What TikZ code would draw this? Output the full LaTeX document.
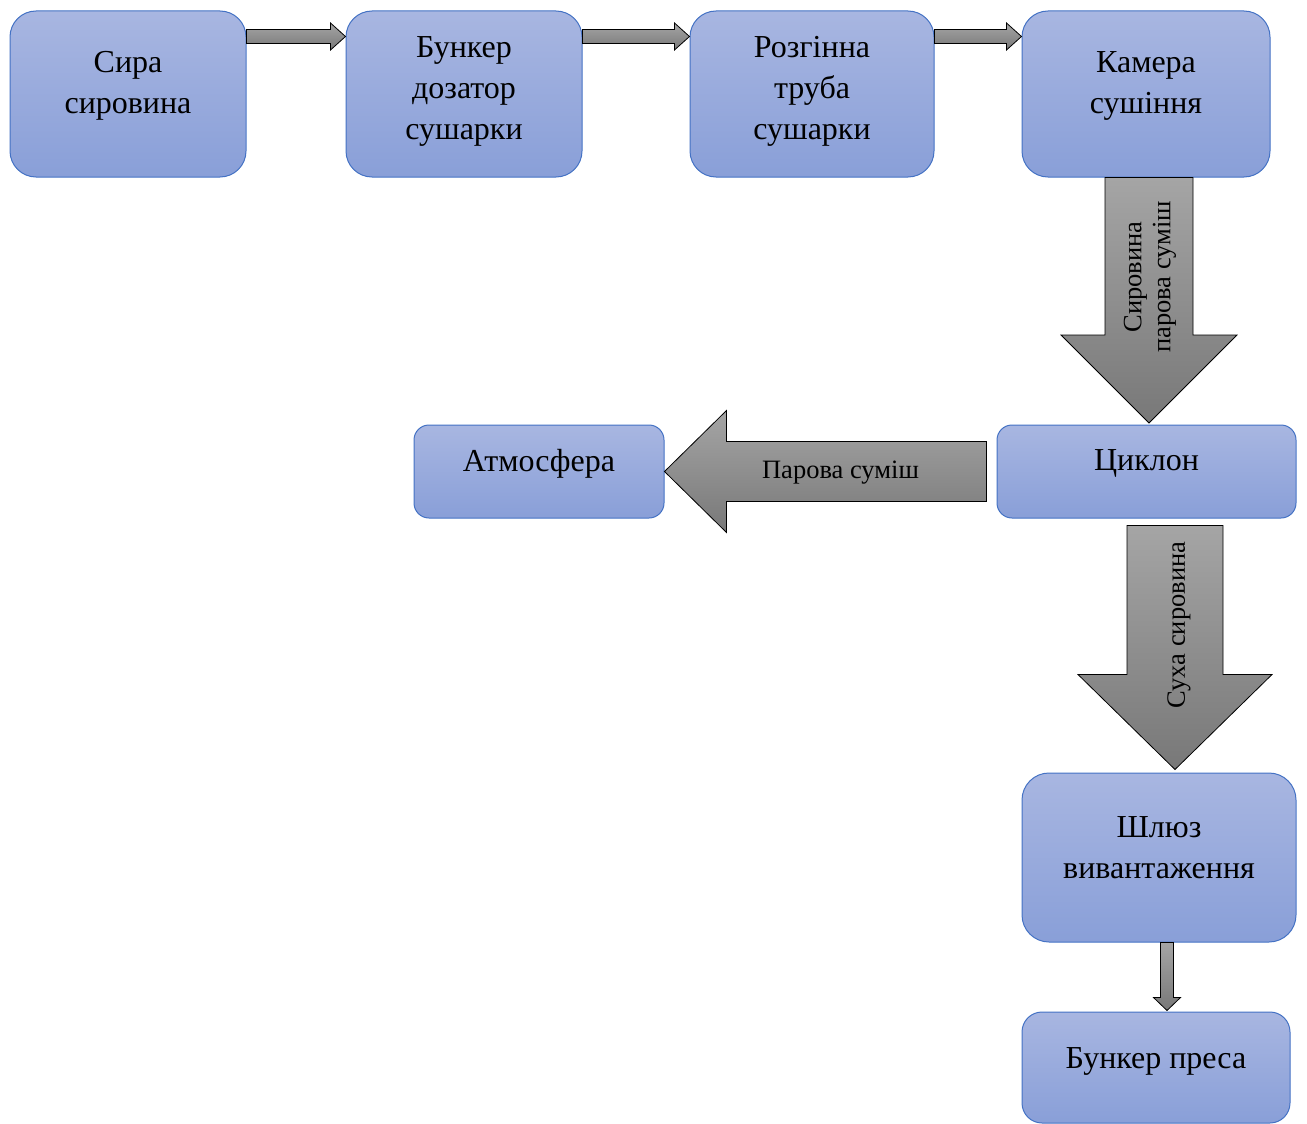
\documentclass[tikz,border=0pt]{standalone}
\usepackage{fontspec}
\setmainfont{Liberation Serif}
\usetikzlibrary{calc}
\definecolor{boxtop}{RGB}{168,182,225}
\definecolor{boxbot}{RGB}{137,159,216}
\definecolor{boxline}{RGB}{68,114,196}
\definecolor{arrtop}{RGB}{165,165,165}
\definecolor{arrbot}{RGB}{120,120,120}
\tikzset{
  procbox/.style={draw=boxline, line width=1pt, top color=boxtop, bottom color=boxbot,
    rectangle, inner sep=0pt},
  boxtext/.style={align=center, font=\fontsize{32}{41}\selectfont, inner sep=0pt},
  arrtext/.style={align=center, font=\fontsize{26.5}{29}\selectfont, inner sep=0pt},
  blockarrow/.style={draw=black, line width=0.8pt, top color=arrtop, bottom color=arrbot, line join=miter},
}
\begin{document}
\begin{tikzpicture}[x=1pt,y=-1pt]
\useasboundingbox (0,0) rectangle (1307,1124);
% boxes
\node[procbox, rounded corners=26pt, minimum width=236pt, minimum height=166pt] (b1) at (128,94) {};
\node[procbox, rounded corners=26pt, minimum width=236pt, minimum height=166pt] (b2) at (464,94) {};
\node[procbox, rounded corners=26pt, minimum width=244pt, minimum height=166pt] (b3) at (812,94) {};
\node[procbox, rounded corners=26pt, minimum width=248pt, minimum height=166pt] (b4) at (1146,94) {};
\node[procbox, rounded corners=15pt, minimum width=299pt, minimum height=93pt] (cyc) at (1146.5,471.5) {};
\node[procbox, rounded corners=15pt, minimum width=250pt, minimum height=93pt] (atm) at (539,471.5) {};
\node[procbox, rounded corners=27pt, minimum width=274pt, minimum height=169pt] (shl) at (1159,857.5) {};
\node[procbox, rounded corners=20pt, minimum width=268pt, minimum height=111pt] (prs) at (1156,1067.5) {};
% texts
\node[boxtext] (t1) at ($(b1.center)+(0,-8)$) {Сира\\сировина};
\node[boxtext] (t2) at ($(b2.center)+(0,-3)$) {Бункер\\дозатор\\сушарки};
\node[boxtext] (t3) at ($(b3.center)+(0,-3)$) {Розгінна\\труба\\сушарки};
\node[boxtext] (t4) at ($(b4.center)+(0,-8)$) {Камера\\сушіння};
\node[boxtext] (t5) at ($(cyc.center)+(0,-8)$) {Циклон};
\node[boxtext] (t6) at ($(atm.center)+(0,-8)$) {Атмосфера};
\node[boxtext] (t7) at ($(shl.center)+(0,-10)$) {Шлюз\\вивантаження};
\node[boxtext] (t8) at ($(prs.center)+(0,-6)$) {Бункер преса};
% small right arrows
\foreach \s/\e in {b1/b2, b2/b3, b3/b4}{
  \coordinate (as) at ($(\s.north east)+(0,26)$);
  \coordinate (ae) at ($(\e.north west)+(0,26)$);
  \draw[blockarrow] ($(as)+(0,-7)$) -- ($(ae)+(-15,-7)$) -- ($(ae)+(-15,-13.5)$) -- (ae)
    -- ($(ae)+(-15,13.5)$) -- ($(ae)+(-15,7)$) -- ($(as)+(0,7)$) -- cycle;
}
% big down arrow 1
\coordinate (d1s) at ($(b4.south)+(3,0)$);
\coordinate (d1e) at ($(cyc.north)+(2.5,-1.5)$);
\draw[blockarrow] ($(d1s)+(-44,0)$) -- ($(d1s)+(44,0)$) -- ($(d1e)+(44,-88)$) -- ($(d1e)+(88,-88)$)
  -- (d1e) -- ($(d1e)+(-88,-88)$) -- ($(d1e)+(-44,-88)$) -- cycle;
\node[arrtext, rotate=90] (l1) at (1150,277) {Сировина\\парова суміш};
% left arrow
\coordinate (ls) at ($(cyc.west)+(-10,0)$);
\coordinate (le) at (atm.east);
\draw[blockarrow] ($(ls)+(0,-30)$) -- ($(le)+(62,-30)$) -- ($(le)+(62,-61)$) -- (le)
  -- ($(le)+(62,61)$) -- ($(le)+(62,30)$) -- ($(ls)+(0,30)$) -- cycle;
\node[arrtext] (l2) at ($(le)+(176,1)$) {Парова суміш};
% big down arrow 2
\coordinate (d2s) at ($(cyc.south)+(28.5,7)$);
\coordinate (d2e) at ($(shl.north)+(16,-3)$);
\draw[blockarrow] ($(d2s)+(-48,0)$) -- ($(d2s)+(48,0)$) -- ($(d2e)+(48,-95)$) -- ($(d2e)+(97,-95)$)
  -- (d2e) -- ($(d2e)+(-97,-95)$) -- ($(d2e)+(-48,-95)$) -- cycle;
\node[arrtext, rotate=90] (l3) at (1179,625) {Суха сировина};
% small down arrow
\coordinate (d3s) at ($(shl.south)+(8,0)$);
\coordinate (d3e) at ($(prs.north)+(11,-1)$);
\draw[blockarrow] ($(d3s)+(-6.5,0)$) -- ($(d3s)+(6.5,0)$) -- ($(d3e)+(6.5,-13)$) -- ($(d3e)+(13.5,-13)$)
  -- (d3e) -- ($(d3e)+(-13.5,-13)$) -- ($(d3e)+(-6.5,-13)$) -- cycle;
\end{tikzpicture}
\end{document}
